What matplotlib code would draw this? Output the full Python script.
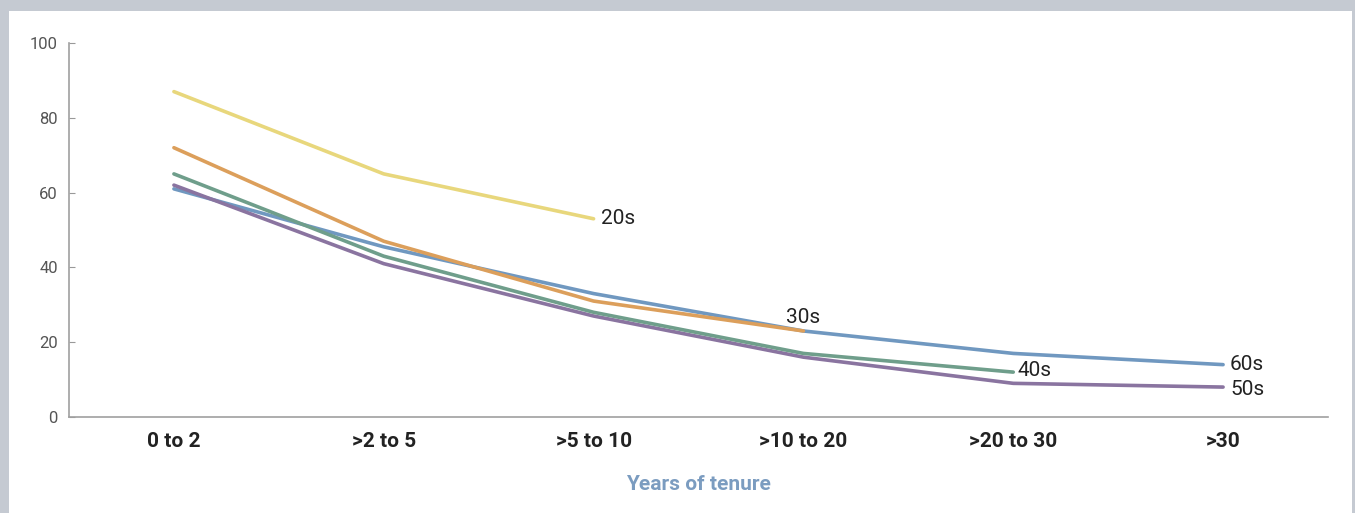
import matplotlib
matplotlib.use("Agg")
import matplotlib.pyplot as plt

categories = ["0 to 2", ">2 to 5", ">5 to 10", ">10 to 20", ">20 to 30", ">30"]
s20 = [87, 65, 53]
s30 = [72, 47, 31, 23]
s40 = [65, 43, 28, 17, 12]
s50 = [62, 41, 27, 16, 9, 8]
s60 = [61, 45.5, 33, 23, 17, 14]
yticks = [0, 20, 40, 60, 80, 100]

plt.rcParams['font.family'] = ['Roboto', 'DejaVu Sans']

fig = plt.figure(figsize=(13.55, 5.13), dpi=100)
fig.patch.set_facecolor("#c5cad2")
W, H = 1355, 513
# white panel
fig.patches.append(plt.Rectangle((9 / W, 0), (1352 - 9) / W, (513 - 11) / H,
                                 transform=fig.transFigure, facecolor="white",
                                 edgecolor="none", zorder=-5))

ax = fig.add_axes([69 / W, 1 - 417 / H, (1328 - 69) / W, (417 - 43) / H])
ax.set_facecolor("none")

series = [
    ("60s", s60, "#7098c0"),
    ("50s", s50, "#8a74a0"),
    ("40s", s40, "#6f9e8b"),
    ("30s", s30, "#dc9f5b"),
    ("20s", s20, "#e8d77c"),
]
for name, vals, col in series:
    xs = list(range(len(vals)))
    ax.plot(xs, vals, color=col, lw=2.6, solid_capstyle="round", zorder=3)

lab_kw = dict(fontsize=15, color="#222222", va="center")
ax.annotate("20s", (2, s20[-1]), xytext=(5, 0), textcoords="offset points", ha="left", **lab_kw)
ax.annotate("30s", (3, s30[-1]), xytext=(0, 10), textcoords="offset points", ha="center", **lab_kw)
ax.annotate("40s", (4, s40[-1]), xytext=(3, 1), textcoords="offset points", ha="left", **lab_kw)
ax.annotate("60s", (5, s60[-1]), xytext=(5, 0), textcoords="offset points", ha="left", **lab_kw)
ax.annotate("50s", (5, s50[-1]), xytext=(5, -2), textcoords="offset points", ha="left", **lab_kw)

ax.set_xlim(-0.5, 5.5)
ax.set_ylim(0, 100)
ax.set_yticks(yticks)
ax.set_xticks(range(len(categories)))
ax.set_xticklabels(categories, fontsize=15, fontweight="bold", color="#222222")
ax.tick_params(axis="x", length=0, pad=11)
ax.tick_params(axis="y", direction="in", length=4, color="#999999", labelsize=12,
               labelcolor="#555555", pad=8)
for s in ["top", "right"]:
    ax.spines[s].set_visible(False)
for s in ["left", "bottom"]:
    ax.spines[s].set_color("#a0a0a0")
    ax.spines[s].set_linewidth(1.2)

ax.set_xlabel("Years of tenure", fontsize=15, fontweight="bold", color="#7b9cc0", labelpad=17)

fig.savefig("out.png", dpi=100, facecolor=fig.get_facecolor())
